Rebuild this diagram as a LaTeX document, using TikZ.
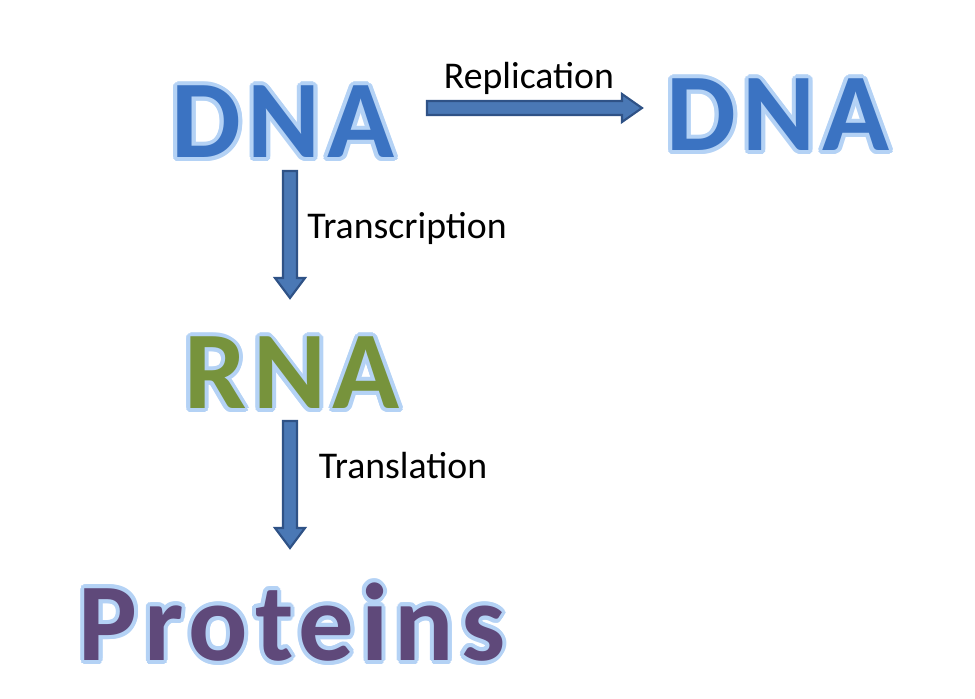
\documentclass[tikz,border=0pt]{standalone}
\usepackage{fontspec}
\setmainfont{Carlito}
\newfontfamily\bigfont[LetterSpace=6]{Carlito}
\usetikzlibrary{calc}
\definecolor{dnablue}{HTML}{3B73C2}
\definecolor{rnagreen}{HTML}{77933C}
\definecolor{protpurple}{HTML}{5F497A}
\definecolor{glowc}{HTML}{B4D2F5}
\definecolor{arrfill}{HTML}{4A78B5}
\definecolor{arredge}{HTML}{2F5286}
\newcommand{\glowtext}[4]{% name, pos, color, text
  \foreach \a in {0,22.5,...,359}{
    \node[bigword,text=glowc] at ($(#2)+(\a:4)$) {#4};}
  \node[bigword,text=#3] (#1) at (#2) {#4};}
\tikzset{
  bigword/.style={font=\bigfont\fontsize{63}{63}\bfseries\selectfont,inner sep=0pt},
  lbl/.style={font=\fontsize{21.5}{23}\selectfont,inner sep=0pt},
  blockarr/.style={fill=arrfill,draw=arredge,line width=1.2pt,line join=miter}
}
\begin{document}
\begin{tikzpicture}[x=0.02cm,y=-0.02cm]
\useasboundingbox (0,0) rectangle (975,699);
\glowtext{dna1}{283,122}{dnablue}{DNA}
\glowtext{dna2}{778,115}{dnablue}{DNA}
\glowtext{rna}{292,373}{rnagreen}{RNA}
\glowtext{prot}{292,622}{protpurple}{Proteins}
% horizontal arrow
\coordinate (h1) at (427,108); \coordinate (h2) at (642,108);
\draw[blockarr] ($(h1)+(0,-7)$) -- ($(h2)+(-20,-7)$) -- ($(h2)+(-20,-14)$) -- (h2) -- ($(h2)+(-20,14)$) -- ($(h2)+(-20,7)$) -- ($(h1)+(0,7)$) -- cycle;
% vertical arrows
\coordinate (v1) at (290,171); \coordinate (v2) at (290,298);
\draw[blockarr] ($(v1)+(-7,0)$) -- ($(v2)+(-7,-20)$) -- ($(v2)+(-15,-20)$) -- (v2) -- ($(v2)+(15,-20)$) -- ($(v2)+(7,-20)$) -- ($(v1)+(7,0)$) -- cycle;
\coordinate (v3) at (290,421); \coordinate (v4) at (290,548);
\draw[blockarr] ($(v3)+(-7,0)$) -- ($(v4)+(-7,-20)$) -- ($(v4)+(-15,-20)$) -- (v4) -- ($(v4)+(15,-20)$) -- ($(v4)+(7,-20)$) -- ($(v3)+(7,0)$) -- cycle;
\node[lbl] (rep) at (529,78) {Replication};
\node[lbl] (tsc) at (407,228) {Transcription};
\node[lbl] (tsl) at (403,466) {Translation};
\end{tikzpicture}
\end{document}
